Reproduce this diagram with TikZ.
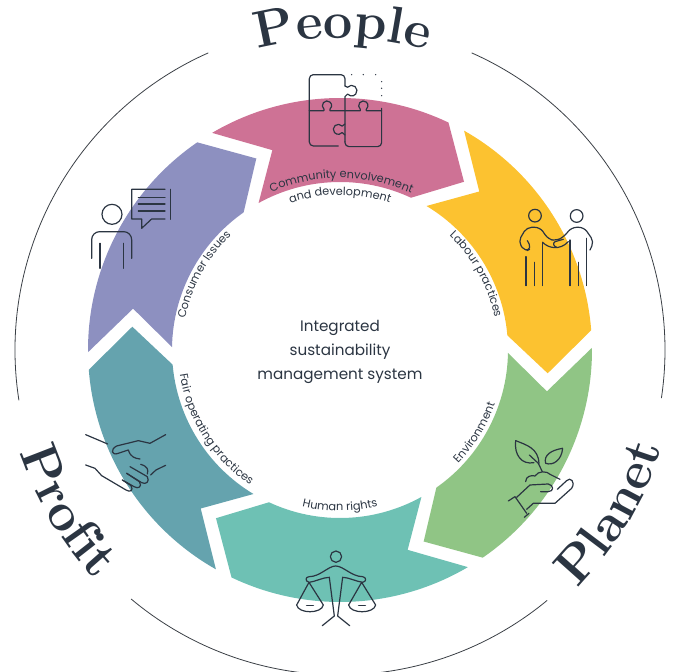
\documentclass[tikz,border=0pt]{standalone}
\usepackage{fontspec}
\usepackage{xcolor}
\usetikzlibrary{decorations.text}
\newfontfamily\labelfont{Poppins}
\newcommand{\titlestyle}{\rmfamily\bfseries\fontsize{52}{56}\selectfont}
\newcommand{\arcstyle}{\labelfont\fontsize{11.3}{13}\selectfont\color{labeldark}}
\definecolor{labeldark}{HTML}{2B3542}
\definecolor{ringline}{HTML}{3A3F45}
\definecolor{peopleseg}{HTML}{CE7295}
\definecolor{labourseg}{HTML}{FCC230}
\definecolor{envseg}{HTML}{90C585}
\definecolor{rightsseg}{HTML}{6EC1B4}
\definecolor{fairseg}{HTML}{65A3AE}
\definecolor{consumerseg}{HTML}{8D90C0}
\tikzset{
	ringarc/.style={draw=ringline,line width=0.8pt},
	icon/.style={draw=labeldark,line width=1.2pt,line cap=round,line join=round},
	iconat/.style={shift={(#1)},scale=0.3333},
	titletext/.style={decorate,decoration={text along path,text={|\titlestyle\color{labeldark}|#1},text align=center}},
	arctext/.style={decorate,decoration={text along path,text={|\arcstyle|#1},text align=center}},
}

\begin{document}
\begin{tikzpicture}[x=1pt,y=1pt]
	\useasboundingbox (-340,-322) rectangle (333,350);
	% arrow ring
	\foreach \rot/\segcol in {0/peopleseg,-60/labourseg,-120/envseg,-180/rightsseg,-240/fairseg,-300/consumerseg}{
		\fill[\segcol,rotate=\rot] (120.5:252) arc[start angle=120.5,end angle=64.5,radius=252pt] -- (53.6:209) -- (65:168) arc[start angle=65,end angle=119,radius=168pt] -- (108.7:211) -- cycle;
	}
	% outer ring
	\draw[ringarc] (113.9:325) arc[start angle=113.9,end angle=188.9,radius=325pt];
	\draw[ringarc] (230:325) arc[start angle=230,end angle=309.6,radius=325pt];
	\draw[ringarc] (-8.5:325) arc[start angle=-8.5,end angle=66.1,radius=325pt];
	%
	\node[align=center,font=\labelfont\fontsize{15.2}{24}\selectfont,text=labeldark] (coretext) at (0,-2) {Integrated\\sustainability\\management system};
	% titles
	\path[titletext={People}] (130:312) arc[start angle=130,end angle=49,radius=312pt];
	\path[titletext={Profit}] (170:336) arc[start angle=170,end angle=251,radius=336pt];
	\path[titletext={Planet}] (-71:336) arc[start angle=-71,end angle=9,radius=336pt];
	% labels on the ring
	\path[arctext={Community envolvement}] (125:172) arc[start angle=125,end angle=54,radius=172pt];
	\path[arctext={and development}] (125:155) arc[start angle=125,end angle=55,radius=155pt];
	\path[arctext={Labour practices}] (60:158) arc[start angle=60,end angle=-2,radius=158pt];
	\path[arctext={Environment}] (-60:164) arc[start angle=-60,end angle=-3,radius=164pt];
	\path[arctext={Human rights}] (-120:161) arc[start angle=-120,end angle=-60,radius=161pt];
	\path[arctext={Fair operating practices}] (176:162) arc[start angle=176,end angle=249,radius=162pt];
	\path[arctext={Consumer Issues}] (180:158) arc[start angle=180,end angle=122,radius=158pt];
	% icons, in pixels of the page
	\begin{scope}[shift={(-340,350)},yscale=-1]
		% puzzle
		\begin{scope}[iconat={200,0},icon]
			\draw[rounded corners=4pt] (328,332) -- (328,224) -- (435,224) -- (435,258);
			\draw (435,258) -- (442.7,261.7) arc[start angle=220,end angle=500,radius=16] -- (435,290) -- (435,425);
			\draw[rounded corners=4pt] (435,425) -- (435,440) -- (545,440) -- (545,325);
			\draw (328,332) -- (372,332) -- (372,327.7) arc[start angle=130,end angle=410,radius=14] -- (390,332) -- (481,332) -- (481,327.7) arc[start angle=130,end angle=410,radius=14] -- (499,332) -- (545,332);
			\draw[rounded corners=4pt] (328,332) -- (328,438) -- (415,438);
			\draw (435,372) -- (426.5,378.4) arc[start angle=-40,end angle=-320,radius=15] -- (435,405);
			\foreach \dotx/\doty in {455/224,490/224,527/224,545/245,545/265,545/287}{
				\fill[labeldark] (\dotx,\doty) circle[radius=2.2];
			}
		\end{scope}
		% two people
		\begin{scope}[iconat={420,120},icon]
			\draw (345,287) circle[radius=19];
			\draw (470,288) circle[radius=19];
			\draw[rounded corners=5pt] (322,362) -- (335,385) -- (315,395) -- (295,365) -- (320,322) -- (360,322) -- (385,358) -- (408,362) -- (430,352) -- (455,322) -- (492,322) -- (522,365) -- (510,390);
			\draw (368,367) .. controls (385,385) and (420,392) .. (445,365);
			\draw (430,358) -- (405,365) .. controls (398,370) and (400,378) .. (410,382);
			\foreach \legx/\legy in {318/410,343/427,368/367,450/360,475/427,500/355}{
				\draw (\legx,\legy) -- (\legx,497);
			}
		\end{scope}
		% plant on a hand
		\begin{scope}[iconat={410,350},icon]
			\draw (317,272) .. controls (350,285) and (385,295) .. (387,340);
			\draw (317,272) .. controls (312,315) and (335,345) .. (372,338);
			\draw (358,315) -- (385,340) -- (397,365);
			\draw (458,295) .. controls (425,300) and (400,315) .. (407,340) .. controls (430,348) and (455,330) .. (458,295);
			\draw (347,395) .. controls (347,378) and (365,375) .. (375,378) .. controls (385,362) and (410,362) .. (422,374) -- (450,388);
			\draw (295,453) -- (315,440) -- (350,490);
			\draw (343,502) -- (357,490);
			\draw (320,442) -- (360,405) -- (415,402) .. controls (432,405) and (432,425) .. (415,425) -- (392,425);
			\draw (350,478) -- (370,460) -- (435,460) -- (485,415) .. controls (498,395) and (480,380) .. (470,392) -- (442,418);
		\end{scope}
		% scales
		\begin{scope}[iconat={200,480},icon]
			\draw (408,230) circle[radius=17];
			\draw (388,292) -- (403,408) -- (367,437);
			\draw (428,292) -- (413,408) -- (449,437);
			\draw (388,292) .. controls (370,292) and (345,305) .. (328,307) .. controls (315,305) and (315,290) .. (328,290) .. controls (360,290) and (385,258) .. (407,258) .. controls (430,258) and (455,290) .. (488,290) .. controls (500,292) and (500,305) .. (488,307) .. controls (470,305) and (445,292) .. (428,292);
			\draw (327,307) -- (290,375) .. controls (295,402) and (365,402) .. (370,375) -- (327,307);
			\draw[line width=1.5pt] (320,377) -- (340,377);
			\draw (485,307) -- (446,375) .. controls (451,402) and (522,402) .. (527,375) -- (485,307);
			\draw[line width=1.5pt] (476,377) -- (496,377);
		\end{scope}
		% handshake
		\begin{scope}[iconat={70,320},icon]
			\draw (47,344) -- (113,372);
			\draw (287,344) -- (240,370) -- (205,362) -- (140,378) .. controls (120,388) and (125,408) .. (145,400) -- (175,390) .. controls (182,412) and (195,415) .. (210,417);
			\draw (212,433) .. controls (235,440) and (235,450) .. (232,462);
			\draw (180,440) -- (232,470) .. controls (240,485) and (228,495) .. (215,488) -- (170,460);
			\draw (170,460) -- (208,485) .. controls (218,500) and (205,508) .. (192,500) -- (157,480);
			\draw (157,480) -- (183,497) .. controls (192,512) and (180,518) .. (168,510) -- (95,467) -- (75,445) -- (47,435);
			\draw (287,436) -- (258,450) -- (242,465);
		\end{scope}
		% person with speech bubble
		\begin{scope}[iconat={70,130},icon]
			\draw (126,253) circle[radius=30];
			\draw[rounded corners=8pt] (65,385) -- (65,305) -- (185,305) -- (185,385);
			\draw (90,340) -- (90,415);
			\draw (160,340) -- (160,415);
			\draw (285,178) -- (185,178) -- (185,267) -- (215,267) -- (215,295) -- (245,267) -- (285,267);
			\draw (302,178) -- (302,268);
			\foreach \liney in {202,222,243}{
				\draw (205,\liney) -- (285,\liney);
			}
		\end{scope}
	\end{scope}
\end{tikzpicture}
\end{document}
